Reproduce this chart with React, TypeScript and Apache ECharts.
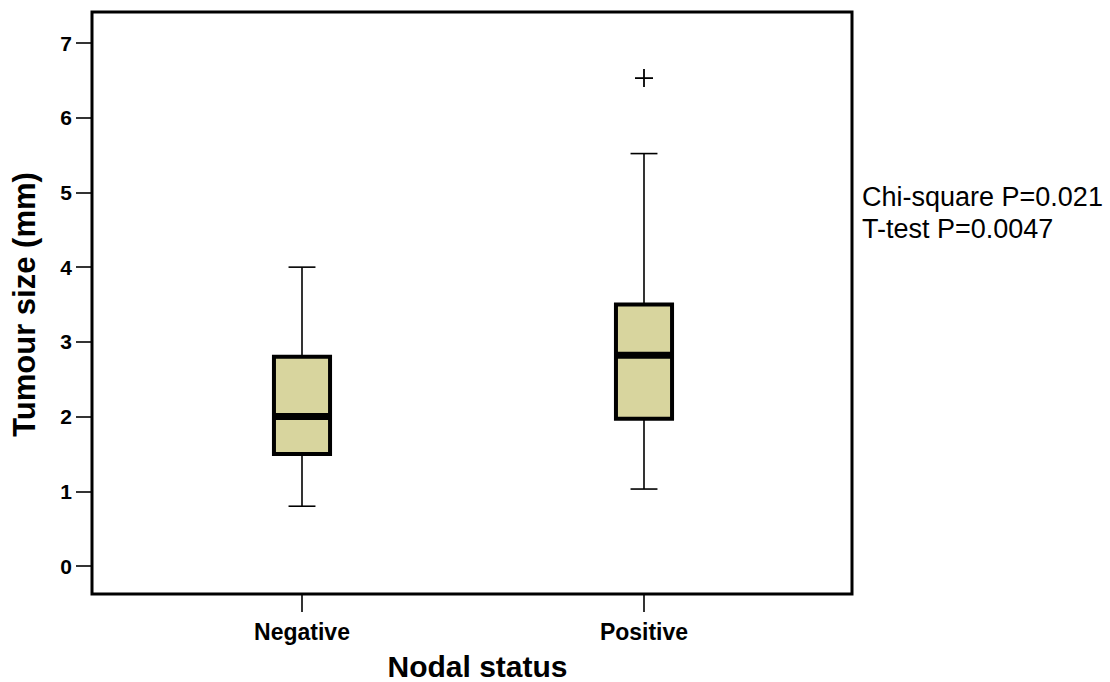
import React, { useEffect, useRef } from "react";
import * as echarts from "echarts";

// Tumour size by nodal status
const categories = ["Negative", "Positive"];
// [min whisker, Q1, median, Q3, max whisker]
const negativeStats = [0.8, 1.5, 2.0, 2.8, 4.0];
const positiveStats = [1.03, 1.97, 2.82, 3.5, 5.52];
// [category index, value]
const outliers = [[1, 6.53]];
const yTicks = { min: 0, max: 7, interval: 1 };
const annotationLines = ["Chi-square P=0.021", "T-test P=0.0047"];

const FONT = '"Liberation Sans", Arial, Helvetica, sans-serif';
const BOX_FILL = "#d8d59e";

export default function App() {
  const ref = useRef<HTMLDivElement>(null);

  useEffect(() => {
    if (!ref.current) return;
    const chart = echarts.init(ref.current, null, { renderer: "svg" });

    const boxData = [negativeStats, positiveStats].map((s, i) => [i, ...s]);

    const renderBox = (params: any, api: any) => {
      const idx = api.value(0);
      const low = api.coord([idx, api.value(1)]);
      const q1 = api.coord([idx, api.value(2)]);
      const med = api.coord([idx, api.value(3)]);
      const q3 = api.coord([idx, api.value(4)]);
      const high = api.coord([idx, api.value(5)]);
      const band = api.size([1, 0])[0];
      const boxW = band * 0.164;
      const capW = boxW * 0.48;
      const cx = low[0];
      const thin = { stroke: "#000", lineWidth: 1.6 };
      return {
        type: "group",
        children: [
          { type: "line", shape: { x1: cx, y1: low[1], x2: cx, y2: q1[1] }, style: thin },
          { type: "line", shape: { x1: cx, y1: q3[1], x2: cx, y2: high[1] }, style: thin },
          { type: "line", shape: { x1: cx - capW / 2, y1: low[1], x2: cx + capW / 2, y2: low[1] }, style: thin },
          { type: "line", shape: { x1: cx - capW / 2, y1: high[1], x2: cx + capW / 2, y2: high[1] }, style: thin },
          {
            type: "rect",
            shape: { x: cx - boxW / 2, y: q3[1], width: boxW, height: q1[1] - q3[1] },
            style: { fill: BOX_FILL, stroke: "#000", lineWidth: 4 },
          },
          {
            type: "line",
            shape: { x1: cx - boxW / 2, y1: med[1], x2: cx + boxW / 2, y2: med[1] },
            style: { stroke: "#000", lineWidth: 7 },
          },
        ],
      };
    };

    const renderOutlier = (params: any, api: any) => {
      const p = api.coord([api.value(0), api.value(1)]);
      const r = 9;
      const st = { stroke: "#000", lineWidth: 1.8 };
      return {
        type: "group",
        children: [
          { type: "line", shape: { x1: p[0] - r, y1: p[1], x2: p[0] + r, y2: p[1] }, style: st },
          { type: "line", shape: { x1: p[0], y1: p[1] - r, x2: p[0], y2: p[1] + r }, style: st },
        ],
      };
    };

    chart.setOption({
      animation: false,
      backgroundColor: "#fff",
      textStyle: { fontFamily: FONT },
      grid: [
        // outer frame
        {
          left: 92,
          top: 12,
          width: 760,
          height: 582,
          show: true,
          borderColor: "#000",
          borderWidth: 3,
          backgroundColor: "transparent",
          outerBoundsMode: "none",
          containLabel: false,
        },
        // data area (0..7 on the value axis)
        { left: 131, top: 43, width: 684, height: 523, outerBoundsMode: "none", containLabel: false },
        // category axis along the bottom of the frame
        { left: 131, top: 43, width: 684, height: 551, outerBoundsMode: "none", containLabel: false },
      ],
      xAxis: [
        { gridIndex: 0, type: "value", show: false, min: 0, max: 1 },
        { gridIndex: 1, type: "category", data: categories, show: false },
        {
          gridIndex: 2,
          type: "category",
          data: categories,
          position: "bottom",
          axisLine: { show: false, onZero: false },
          axisTick: {
            show: true,
            inside: false,
            alignWithLabel: true,
            length: 18,
            lineStyle: { color: "#000", width: 1.6 },
          },
          axisLabel: { color: "#000", fontWeight: "bold", fontSize: 23, margin: 26, fontFamily: FONT },
          splitLine: { show: false },
          name: "Nodal status",
          nameLocation: "middle",
          nameGap: 57,
          nameTextStyle: {
            color: "#000",
            fontWeight: "bold",
            fontSize: 30,
            fontFamily: FONT,
            padding: [0, 0, 0, 9],
          },
        },
      ],
      yAxis: [
        { gridIndex: 0, type: "value", show: false, min: 0, max: 1 },
        {
          gridIndex: 1,
          type: "value",
          min: yTicks.min,
          max: yTicks.max,
          interval: yTicks.interval,
          offset: 39,
          axisLine: { show: false },
          axisTick: { show: true, length: 16, lineStyle: { color: "#000", width: 1.6 } },
          axisLabel: { color: "#000", fontWeight: "bold", fontSize: 21, margin: 20, fontFamily: FONT },
          splitLine: { show: false },
          name: "Tumour size (mm)",
          nameLocation: "middle",
          nameGap: 52,
          nameTextStyle: { color: "#000", fontWeight: "bold", fontSize: 31, fontFamily: FONT },
        },
        { gridIndex: 2, type: "value", show: false, min: 0, max: 1 },
      ],
      series: [
        {
          type: "custom",
          xAxisIndex: 1,
          yAxisIndex: 1,
          data: boxData,
          encode: { x: 0, y: [1, 2, 3, 4, 5] },
          renderItem: renderBox,
          clip: false,
        },
        {
          type: "custom",
          xAxisIndex: 1,
          yAxisIndex: 1,
          data: outliers,
          encode: { x: 0, y: 1 },
          renderItem: renderOutlier,
          clip: false,
        },
      ],
      graphic: [
        {
          type: "text",
          left: 862,
          top: 181,
          style: {
            text: annotationLines.join("\n"),
            fill: "#000",
            font: `27px ${FONT}`,
            lineHeight: 32,
          },
        },
      ],
    });

    return () => chart.dispose();
  }, []);

  return (
    <div
      ref={ref}
      style={{ position: "fixed", left: 0, top: 0, width: 1110, height: 682, background: "#fff" }}
    />
  );
}
